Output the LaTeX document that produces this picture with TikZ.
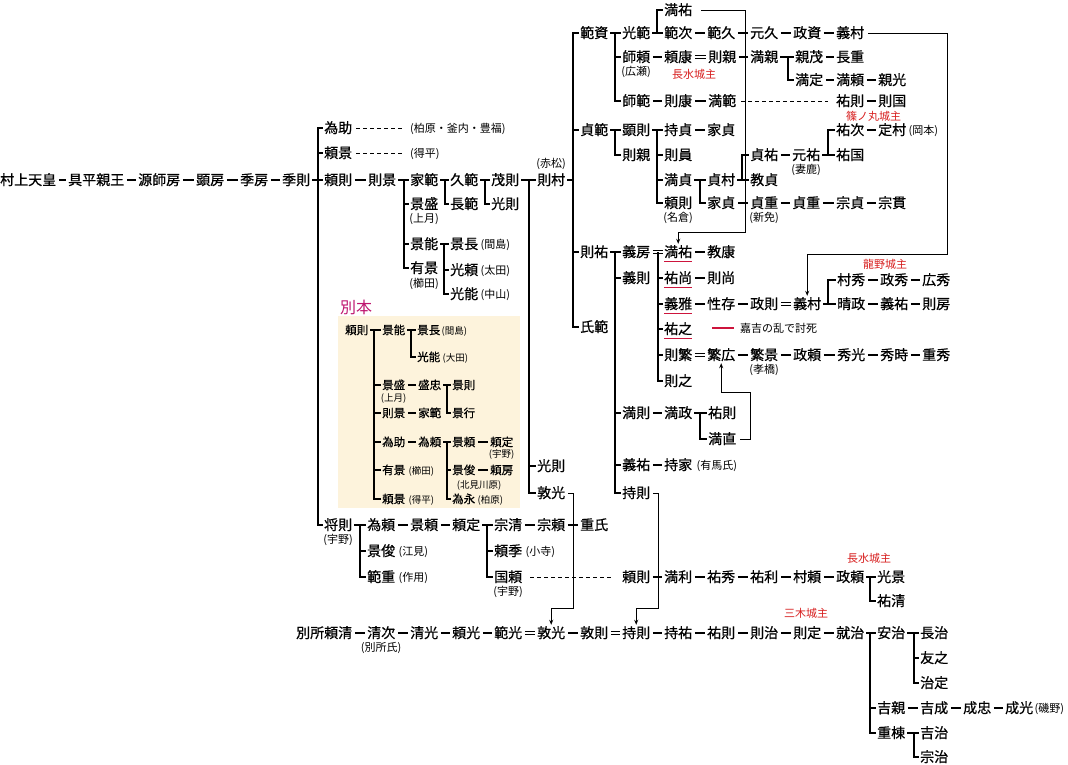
\documentclass[tikz,border=0pt]{standalone}
\usepackage{fontspec}
\setmainfont{Noto Sans CJK JP}
\newfontfamily\namefont{Noto Sans CJK JP}[FakeBold=0.7]
\usetikzlibrary{positioning,arrows.meta}

\definecolor{kred}{RGB}{215,30,30}
\definecolor{kuline}{RGB}{205,20,60}
\definecolor{kmag}{RGB}{190,20,110}
\definecolor{kbeige}{RGB}{253,243,220}

\newcommand{\lnk}[2]{\draw[link,shorten <=2.5pt,shorten >=2.5pt] (#1.east) -- (#2.west);}
\newcommand{\adp}[2]{\draw[adopt,shorten <=2.5pt,shorten >=2.5pt] (#1.east) -- (#2.west);}
\newcommand{\kin}[3]{%
	\coordinate (bx) at (#2,0);
	\draw[link,shorten <=2pt] (#1.east) -- (bx |- #1.east);
	\foreach \ch in {#3}{\draw[link] (bx |- #1.east) -- (bx |- \ch.west) -- ([xshift=-1pt]\ch.west);}
}

\begin{document}
\begin{tikzpicture}[x=1pt,y=-1pt,
	nm/.style={anchor=west,inner sep=0pt,font=\namefont\fontsize{14}{14}\selectfont,text height=12pt,text depth=2pt},
	sm/.style={inner sep=0pt,font=\fontsize{11}{11}\selectfont,text height=9.5pt,text depth=1.5pt},
	bk/.style={nm,font=\namefont\fontsize{11.5}{11.5}\selectfont,text height=10pt,text depth=1.5pt},
	bks/.style={sm,font=\fontsize{9.5}{9.5}\selectfont},
	castle/.style={sm,anchor=west,text=kred},
	link/.style={line width=2.4pt},
	adopt/.style={double,double distance=2.2pt,line width=0.8pt},
	dots/.style={line width=1pt,dash pattern=on 4pt off 3pt},
	guide/.style={line width=0.8pt,-{Stealth[length=5pt,width=4pt]}},
	uline/.style={line width=1.2pt,draw=kuline}]
	\useasboundingbox (0,0) rectangle (1068,764);

	\fill[kbeige] (338,316) rectangle (520,508);
	\node[anchor=west,inner sep=0pt,font=\fontsize{16}{16}\selectfont,text=kmag] (beppon) at (340,307) {別本};

	\node[nm] (murakami) at (0,180) {村上天皇};
	\node[nm] (tomohira) at (68,180) {具平親王};
	\node[nm] (morofusa) at (138,180) {源師房};
	\node[nm] (akifusa) at (196,180) {顕房};
	\node[nm] (suefusa) at (240,180) {季房};
	\node[nm] (suenori) at (282,180) {季則};
	\lnk{murakami}{tomohira} \lnk{tomohira}{morofusa} \lnk{morofusa}{akifusa}
	\lnk{akifusa}{suefusa} \lnk{suefusa}{suenori}

	\node[nm] (tamesuke) at (324,128) {為助};
	\node[nm] (yorikageA) at (324,153) {頼景};
	\node[nm] (yorinoriA) at (324,180) {頼則};
	\node[nm] (masanori) at (324,525) {将則};
	\node[sm,below=2pt of masanori] (masanoriS) {(宇野)};
	\kin{suenori}{318}{tamesuke,yorikageA,yorinoriA,masanori}
	\node[sm,anchor=west] (tamesukeN) at (410,128) {(柏原・釜内・豊福)};
	\node[sm,anchor=west] (yorikageN) at (410,153) {(得平)};
	\draw[dots,shorten <=4pt,shorten >=6pt] (tamesuke.east) -- (tamesukeN.west);
	\draw[dots,shorten <=4pt,shorten >=6pt] (yorikageA.east) -- (yorikageN.west);

	\node[nm] (norikage) at (368,180) {則景};
	\lnk{yorinoriA}{norikage}
	\node[nm] (ienori) at (410,180) {家範};
	\node[nm] (kagemori) at (410,204) {景盛};
	\node[sm,below=2pt of kagemori] (kagemoriS) {(上月)};
	\node[nm] (kageyoshi) at (410,244) {景能};
	\node[nm] (arikage) at (410,268) {有景};
	\node[sm,below=3pt of arikage] (arikageS) {(櫛田)};
	\kin{norikage}{404}{ienori,kagemori,kageyoshi,arikage}
	\node[nm] (hisanori) at (450,180) {久範};
	\node[nm] (osanori) at (450,204) {長範};
	\kin{ienori}{445}{hisanori,osanori}
	\node[nm] (shigenori) at (491,180) {茂則};
	\node[nm] (mitsunoriA) at (491,204) {光則};
	\kin{hisanori}{485}{shigenori,mitsunoriA}
	\node[nm] (kagenaga) at (450,244) {景長};
	\node[sm,right=2pt of kagenaga] (kagenagaS) {(間島)};
	\node[nm] (mitsuyori) at (450,270) {光頼};
	\node[sm,right=2pt of mitsuyori] (mitsuyoriS) {(太田)};
	\node[nm] (mitsuyoshi) at (450,294) {光能};
	\node[sm,right=2pt of mitsuyoshi] (mitsuyoshiS) {(中山)};
	\kin{kageyoshi}{444}{kagenaga,mitsuyori,mitsuyoshi}

	\node[nm] (norimura) at (537,180) {則村};
	\node[sm,above=4pt of norimura] (norimuraS) {(赤松)};
	\node[nm] (mitsunoriB) at (537,466) {光則};
	\node[nm] (atsumitsuA) at (537,493) {敦光};
	\kin{shigenori}{529}{norimura,mitsunoriB,atsumitsuA}

	\node[nm] (norisukeA) at (580,33) {範資};
	\node[nm] (sadanori) at (580,130) {貞範};
	\node[nm] (norisuke) at (580,252) {則祐};
	\node[nm] (ujinori) at (580,327) {氏範};
	\kin{norimura}{573}{norisukeA,sadanori,norisuke,ujinori}

	\node[nm] (mitsunoriC) at (622,33) {光範};
	\node[nm] (moroyori) at (622,57) {師頼};
	\node[sm,below=2pt of moroyori] (moroyoriS) {(広瀬)};
	\node[nm] (moronori) at (622,101) {師範};
	\kin{norisukeA}{615}{mitsunoriC,moroyori,moronori}
	\node[nm] (mitsusukeA) at (664,10) {満祐};
	\node[nm] (noritsugu) at (664,33) {範次};
	\kin{mitsunoriC}{657}{mitsusukeA,noritsugu}
	\node[nm] (norihisa) at (707,33) {範久};
	\node[nm] (motohisa) at (750,33) {元久};
	\node[nm] (masasuke) at (793,33) {政資};
	\node[nm] (yoshimuraA) at (836,33) {義村};
	\lnk{noritsugu}{norihisa} \lnk{norihisa}{motohisa} \lnk{motohisa}{masasuke} \lnk{masasuke}{yoshimuraA}
	\node[nm] (yoriyasu) at (664,57) {頼康};
	\node[nm] (norichika) at (708,57) {則親};
	\node[nm] (mitsuchika) at (750,57) {満親};
	\lnk{moroyori}{yoriyasu} \adp{yoriyasu}{norichika} \lnk{norichika}{mitsuchika}
	\node[castle] (castleA) at (672,74) {長水城主};
	\node[nm] (chikashige) at (795,57) {親茂};
	\node[nm] (mitsusada) at (795,80) {満定};
	\kin{mitsuchika}{788}{chikashige,mitsusada}
	\node[nm] (nagashige) at (836,57) {長重};
	\node[nm] (mitsuyoriB) at (836,80) {満頼};
	\node[nm] (chikamitsu) at (878,80) {親光};
	\lnk{chikashige}{nagashige} \lnk{mitsusada}{mitsuyoriB} \lnk{mitsuyoriB}{chikamitsu}
	\node[nm] (noriyasu) at (664,101) {則康};
	\node[nm] (mitsunoriD) at (708,101) {満範};
	\node[nm] (sukenoriA) at (836,101) {祐則};
	\node[nm] (norikuni) at (878,101) {則国};
	\lnk{moronori}{noriyasu} \lnk{noriyasu}{mitsunoriD} \lnk{sukenoriA}{norikuni}
	\draw[dots,shorten <=5pt,shorten >=8pt] (mitsunoriD.east) -- (sukenoriA.west);
	\node[castle] (castleB) at (846,116) {篠ノ丸城主};

	\node[nm] (akinori) at (622,130) {顕則};
	\node[nm] (norichikaB) at (622,155) {則親};
	\kin{sadanori}{615}{akinori,norichikaB}
	\node[nm] (mochisada) at (664,130) {持貞};
	\node[nm] (norikazu) at (664,155) {則員};
	\node[nm] (mitsusadaB) at (664,180) {満貞};
	\node[nm] (yorinoriB) at (664,203) {頼則};
	\node[sm,below=2pt of yorinoriB] (yorinoriBS) {(名倉)};
	\kin{akinori}{657}{mochisada,norikazu,mitsusadaB,yorinoriB}
	\node[nm] (iesadaA) at (707,130) {家貞};
	\lnk{mochisada}{iesadaA}
	\node[nm] (sadamura) at (707,180) {貞村};
	\node[nm] (iesadaB) at (707,203) {家貞};
	\kin{mitsusadaB}{700}{sadamura,iesadaB}
	\node[nm] (sadasuke) at (750,155) {貞祐};
	\node[nm] (norisada) at (750,180) {教貞};
	\kin{sadamura}{742}{sadasuke,norisada}
	\node[nm] (motosuke) at (792,155) {元祐};
	\node[sm,below=2pt of motosuke] (motosukeS) {(妻鹿)};
	\lnk{sadasuke}{motosuke}
	\node[nm] (suketsugu) at (836,130) {祐次};
	\node[nm] (sukekuni) at (836,155) {祐国};
	\kin{motosuke}{828}{suketsugu,sukekuni}
	\node[nm] (sadamuraB) at (878,130) {定村};
	\node[sm,right=2pt of sadamuraB] (sadamuraBS) {(岡本)};
	\lnk{suketsugu}{sadamuraB}
	\node[nm] (sadashige) at (750,203) {貞重};
	\node[sm,below=2pt of sadashige] (sadashigeS) {(新免)};
	\node[nm] (sadashigeB) at (792,203) {貞重};
	\node[nm] (munesada) at (836,203) {宗貞};
	\node[nm] (munetsura) at (878,203) {宗貫};
	\lnk{iesadaB}{sadashige} \lnk{sadashige}{sadashigeB} \lnk{sadashigeB}{munesada} \lnk{munesada}{munetsura}

	\node[nm] (yoshifusa) at (622,252) {義房};
	\node[nm] (yoshinori) at (622,278) {義則};
	\node[nm] (mitsunoriE) at (622,413) {満則};
	\node[nm] (yoshisuke) at (622,465) {義祐};
	\node[nm] (mochinoriA) at (622,493) {持則};
	\kin{norisuke}{615}{yoshifusa,yoshinori,mitsunoriE,yoshisuke,mochinoriA}
	\node[nm] (mitsusukeB) at (664,252) {満祐};
	\node[nm] (sukehisa) at (664,278) {祐尚};
	\node[nm] (yoshimasa) at (664,304) {義雅};
	\node[nm] (sukeyuki) at (664,329) {祐之};
	\node[nm] (norishige) at (664,355) {則繁};
	\node[nm] (noriyuki) at (664,381) {則之};
	\coordinate (bx) at (658,0);
	\draw[adopt,shorten <=2.5pt,shorten >=1pt] (yoshifusa.east) -- (mitsusukeB.west);
	\foreach \ch in {sukehisa,yoshimasa,sukeyuki,norishige,noriyuki}
		{\draw[link] (bx |- yoshifusa.east) -- (bx |- \ch.west) -- ([xshift=-1pt]\ch.west);}
	\foreach \ch in {mitsusukeB,sukehisa,yoshimasa,sukeyuki}
		{\draw[uline] ([yshift=-2pt]\ch.south west) -- ([yshift=-2pt]\ch.south east);}
	\node[sm,anchor=west] (legend) at (740,328) {嘉吉の乱で討死};
	\draw[uline] ([xshift=-28pt]legend.west) -- ([xshift=-6pt]legend.west);

	\node[nm] (noriyasuB) at (707,252) {教康};
	\lnk{mitsusukeB}{noriyasuB}
	\node[nm] (norihisaB) at (707,278) {則尚};
	\lnk{sukehisa}{norihisaB}
	\node[nm] (seizon) at (707,304) {性存};
	\node[nm] (masanoriB) at (750,304) {政則};
	\node[nm] (yoshimuraB) at (793,304) {義村};
	\lnk{yoshimasa}{seizon} \lnk{seizon}{masanoriB} \adp{masanoriB}{yoshimuraB}
	\node[nm] (murahide) at (837,280) {村秀};
	\node[nm] (harumasa) at (837,304) {晴政};
	\kin{yoshimuraB}{828}{murahide,harumasa}
	\node[nm] (masahide) at (880,280) {政秀};
	\node[nm] (hirohide) at (922,280) {広秀};
	\node[nm] (yoshisukeB) at (880,304) {義祐};
	\node[nm] (norifusa) at (922,304) {則房};
	\lnk{murahide}{masahide} \lnk{masahide}{hirohide} \lnk{harumasa}{yoshisukeB} \lnk{yoshisukeB}{norifusa}
	\node[castle] (castleC) at (863,264) {龍野城主};
	\node[nm] (shigehiro) at (707,355) {繁広};
	\node[nm] (shigekage) at (750,355) {繁景};
	\node[sm,below=2pt of shigekage] (shigekageS) {(孝橋)};
	\node[nm] (masayoriB) at (793,355) {政頼};
	\node[nm] (hidemitsu) at (837,355) {秀光};
	\node[nm] (hidetoki) at (880,355) {秀時};
	\node[nm] (shigehide) at (922,355) {重秀};
	\adp{norishige}{shigehiro} \lnk{shigehiro}{shigekage} \lnk{shigekage}{masayoriB}
	\lnk{masayoriB}{hidemitsu} \lnk{hidemitsu}{hidetoki} \lnk{hidetoki}{shigehide}

	\node[nm] (mitsumasa) at (664,413) {満政};
	\lnk{mitsunoriE}{mitsumasa}
	\node[nm] (sukenoriB) at (708,413) {祐則};
	\node[nm] (mitsunao) at (708,439) {満直};
	\kin{mitsumasa}{700}{sukenoriB,mitsunao}
	\node[nm] (mochiie) at (664,465) {持家};
	\node[sm,right=4pt of mochiie] (mochiieS) {(有馬氏)};
	\lnk{yoshisuke}{mochiie}

	\node[bk] (bYorinori) at (345,330) {頼則};
	\node[bk] (bKageyoshi) at (382,330) {景能};
	\node[bk] (bKagemori) at (382,385) {景盛};
	\node[bks,below=1pt of bKagemori] (bKagemoriS) {(上月)};
	\node[bk] (bNorikage) at (382,413) {則景};
	\node[bk] (bTamesuke) at (382,442) {為助};
	\node[bk] (bArikage) at (382,470) {有景};
	\node[bks,right=3pt of bArikage] (bArikageS) {(櫛田)};
	\node[bk] (bYorikage) at (382,499) {頼景};
	\node[bks,right=3pt of bYorikage] (bYorikageS) {(得平)};
	\kin{bYorinori}{374}{bKageyoshi,bKagemori,bNorikage,bTamesuke,bArikage,bYorikage}
	\node[bk] (bKagenaga) at (417,330) {景長};
	\node[bks,right=1pt of bKagenaga] (bKagenagaS) {(間島)};
	\node[bk] (bMitsuyoshi) at (417,357) {光能};
	\node[bks,right=2pt of bMitsuyoshi] (bMitsuyoshiS) {(大田)};
	\kin{bKageyoshi}{411}{bKagenaga,bMitsuyoshi}
	\node[bk] (bMoritada) at (418,385) {盛忠};
	\lnk{bKagemori}{bMoritada}
	\node[bk] (bKagenori) at (452,385) {景則};
	\node[bk] (bKageyuki) at (452,413) {景行};
	\kin{bMoritada}{447}{bKagenori,bKageyuki}
	\node[bk] (bIenori) at (418,413) {家範};
	\lnk{bNorikage}{bIenori}
	\node[bk] (bTameyori) at (418,442) {為頼};
	\lnk{bTamesuke}{bTameyori}
	\node[bk] (bKageyori) at (452,442) {景頼};
	\node[bk] (bKagetoshi) at (452,470) {景俊};
	\node[bk] (bTamenaga) at (452,499) {為永};
	\node[bks,right=2pt of bTamenaga] (bTamenagaS) {(柏原)};
	\kin{bTameyori}{447}{bKageyori,bKagetoshi,bTamenaga}
	\node[bk] (bYorisada) at (490,442) {頼定};
	\node[bks,below=0pt of bYorisada] (bYorisadaS) {(宇野)};
	\node[bk] (bYorifusa) at (490,470) {頼房};
	\node[bks] (bYorifusaS) at (479,484) {(北見川原)};
	\lnk{bKageyori}{bYorisada} \lnk{bKagetoshi}{bYorifusa}

	\node[nm] (tameyori) at (367,525) {為頼};
	\node[nm] (kagetoshi) at (367,551) {景俊};
	\node[sm,right=3pt of kagetoshi] (kagetoshiS) {(江見)};
	\node[nm] (norishigeB) at (367,577) {範重};
	\node[sm,right=3pt of norishigeB] (norishigeBS) {(作用)};
	\kin{masanori}{360}{tameyori,kagetoshi,norishigeB}
	\node[nm] (kageyori) at (410,525) {景頼};
	\node[nm] (yorisada) at (452,525) {頼定};
	\lnk{tameyori}{kageyori} \lnk{kageyori}{yorisada}
	\node[nm] (munekiyo) at (494,525) {宗清};
	\node[nm] (yorisue) at (494,551) {頼季};
	\node[sm,right=3pt of yorisue] (yorisueS) {(小寺)};
	\node[nm] (kuniyori) at (494,577) {国頼};
	\node[sm,below=2pt of kuniyori] (kuniyoriS) {(宇野)};
	\kin{yorisada}{487}{munekiyo,yorisue,kuniyori}
	\node[nm] (muneyori) at (537,525) {宗頼};
	\node[nm] (ujishige) at (580,525) {重氏};
	\lnk{munekiyo}{muneyori} \lnk{muneyori}{ujishige}
	\node[nm] (yorinoriC) at (622,577) {頼則};
	\draw[dots,shorten <=8pt,shorten >=8pt] (kuniyori.east) -- (yorinoriC.west);
	\node[nm] (mitsutoshi) at (664,577) {満利};
	\node[nm] (sukehide) at (707,577) {祐秀};
	\node[nm] (suketoshi) at (750,577) {祐利};
	\node[nm] (murayori) at (793,577) {村頼};
	\node[nm] (masayoriC) at (836,577) {政頼};
	\lnk{yorinoriC}{mitsutoshi} \lnk{mitsutoshi}{sukehide} \lnk{sukehide}{suketoshi}
	\lnk{suketoshi}{murayori} \lnk{murayori}{masayoriC}
	\node[nm] (mitsukage) at (877,577) {光景};
	\node[nm] (sukekiyo) at (877,601) {祐清};
	\kin{masayoriC}{870}{mitsukage,sukekiyo}
	\node[castle] (castleD) at (847,558) {長水城主};

	\node[nm] (bessho) at (296,633) {別所頼清};
	\node[nm] (kiyotsugu) at (367,633) {清次};
	\node[sm,below=2pt of kiyotsugu] (kiyotsuguS) {(別所氏)};
	\node[nm] (kiyomitsu) at (410,633) {清光};
	\node[nm] (yorimitsu) at (452,633) {頼光};
	\node[nm] (norimitsu) at (494,633) {範光};
	\node[nm] (atsumitsuB) at (537,633) {敦光};
	\node[nm] (atsunori) at (580,633) {敦則};
	\node[nm] (mochinoriB) at (622,633) {持則};
	\node[nm] (mochisuke) at (664,633) {持祐};
	\node[nm] (sukenoriC) at (707,633) {祐則};
	\node[nm] (noriharu) at (750,633) {則治};
	\node[nm] (norisadaB) at (793,633) {則定};
	\node[nm] (naruharu) at (836,633) {就治};
	\lnk{bessho}{kiyotsugu} \lnk{kiyotsugu}{kiyomitsu} \lnk{kiyomitsu}{yorimitsu} \lnk{yorimitsu}{norimitsu}
	\adp{norimitsu}{atsumitsuB} \lnk{atsumitsuB}{atsunori} \adp{atsunori}{mochinoriB}
	\lnk{mochinoriB}{mochisuke} \lnk{mochisuke}{sukenoriC} \lnk{sukenoriC}{noriharu}
	\lnk{noriharu}{norisadaB} \lnk{norisadaB}{naruharu}
	\node[castle] (castleE) at (784,613) {三木城主};
	\node[nm] (yasuharu) at (877,633) {安治};
	\node[nm] (yoshichika) at (877,708) {吉親};
	\node[nm] (shigemune) at (877,733) {重棟};
	\kin{naruharu}{870}{yasuharu,yoshichika,shigemune}
	\node[nm] (nagaharu) at (920,633) {長治};
	\node[nm] (tomoyuki) at (920,658) {友之};
	\node[nm] (harusada) at (920,683) {治定};
	\kin{yasuharu}{914}{nagaharu,tomoyuki,harusada}
	\node[nm] (yoshinari) at (920,708) {吉成};
	\node[nm] (narutada) at (963,708) {成忠};
	\node[nm] (narumitsu) at (1005,708) {成光};
	\node[sm,right=1pt of narumitsu] (narumitsuS) {(磯野)};
	\lnk{yoshichika}{yoshinari} \lnk{yoshinari}{narutada} \lnk{narutada}{narumitsu}
	\node[nm] (yoshiharu) at (920,733) {吉治};
	\node[nm] (muneharu) at (920,757) {宗治};
	\kin{shigemune}{914}{yoshiharu,muneharu}

	\coordinate (turnA) at (745,232);
	\coordinate (turnB) at (947,254);
	\coordinate (turnC) at (750,392);
	\coordinate (turnD) at (573,608);
	\coordinate (turnE) at (658,608);
	\draw[guide,shorten <=9pt,shorten >=1pt] (mitsusukeA.east) -| (turnA) -| (mitsusukeB.north);
	\draw[guide,shorten <=4pt,shorten >=1pt] (yoshimuraA.east) -| (turnB) -| (yoshimuraB.north);
	\draw[guide,shorten <=4pt,shorten >=1pt] (mitsunao.east) -| (turnC) -| (shigehiro.south);
	\draw[guide,shorten <=3pt,shorten >=1pt] (atsumitsuA.east) -| (turnD) -| (atsumitsuB.north);
	\draw[guide,shorten <=3pt,shorten >=1pt] (mochinoriA.east) -| (turnE) -| (mochinoriB.north);
\end{tikzpicture}
\end{document}
